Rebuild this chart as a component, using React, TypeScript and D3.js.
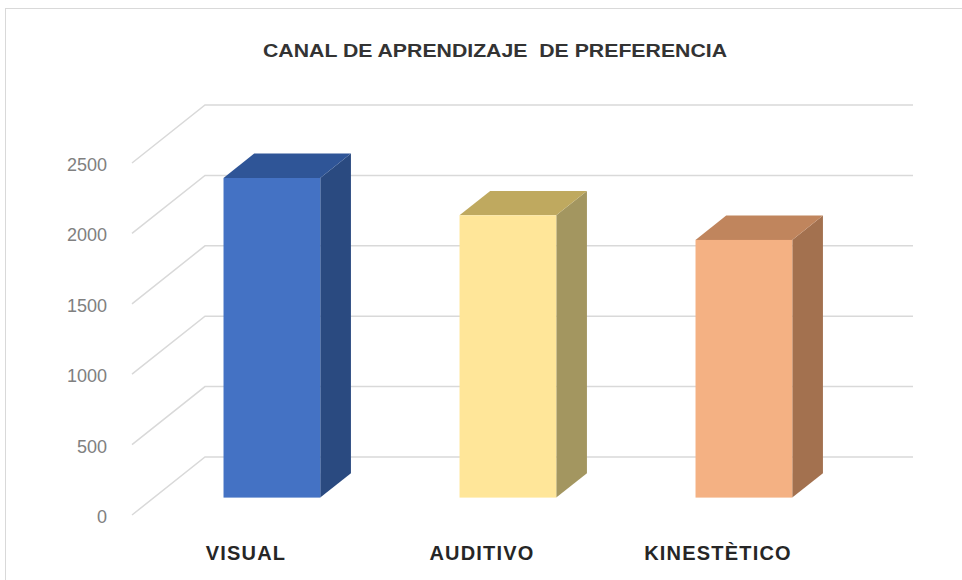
import * as d3 from "d3"

const categories = ["VISUAL", "AUDITIVO", "KINESTÈTICO"]
const values = [2270, 2005, 1830]
const yTicks = [0, 500, 1000, 1500, 2000, 2500]
const title = "CANAL DE APRENDIZAJE  DE PREFERENCIA"

// front / top / side colours per bar
const fronts = ["#4472c4", "#ffe699", "#f4b183"]
const tops = ["#2f5597", "#bfa95f", "#c0855d"]
const sides = ["#2a4a80", "#a39660", "#a3714f"]

export default function App() {
  const width = 962
  const height = 580

  // perspective of the 3d box: back wall is shifted by this
  const depth = {dx: 73, dy: -58}
  const barFront = 0.3
  const barBack = 0.72

  const x = d3.scaleBand().domain(categories).range([132, 840]).padding(0)
  const y = d3.scaleLinear().domain([0, 2500]).range([515, 163])
  const barW = x.bandwidth() * 0.41

  const off = (f: number) => [depth.dx * f, depth.dy * f]

  return (
    <svg
      width={width}
      height={height}
      style={{position: "absolute", left: 0, top: 0, background: "#fff"}}
      fontFamily="'Liberation Sans', Arial, sans-serif"
    >
      <rect x={5.5} y={8.5} width={1000} height={600} fill="#fff" stroke="#d9d9d9" />

      <text
        x={495}
        y={57}
        textAnchor="middle"
        fontSize={19}
        fontWeight="bold"
        fill="#333"
        textLength={464}
        lengthAdjust="spacingAndGlyphs"
        style={{whiteSpace: "pre"}}
      >
        {title}
      </text>

      {/* gridlines: side wall diagonal + back wall */}
      <g stroke="#d9d9d9" strokeWidth={1.5} fill="none">
        {yTicks.map((t) => {
          const x0 = x.range()[0]
          const y0 = y(t)
          const x1 = x0 + depth.dx
          const y1 = y0 + depth.dy
          const x2 = x.range()[1] + depth.dx
          return <path key={t} d={`M${x0},${y0}L${x1},${y1}L${x2},${y1}`} />
        })}
      </g>

      {yTicks.map((t) => (
        <text
          key={t}
          x={107}
          y={y(t) + 8}
          textAnchor="end"
          fontSize={18}
          fill="#808080"
        >
          {t}
        </text>
      ))}

      {categories.map((c, i) => {
        const cx = (x(c) ?? 0) + x.bandwidth() / 2
        const [fx, fy] = off(barFront)
        const [bx, by] = off(barBack)
        const l = cx - barW / 2 + fx
        const r = cx + barW / 2 + fx
        const top = y(values[i]) + fy
        const bottom = y(0) + fy
        const ddx = bx - fx
        const ddy = by - fy
        return (
          <g key={c}>
            <path
              d={`M${r},${top}L${r + ddx},${top + ddy}L${r + ddx},${bottom + ddy}L${r},${bottom}Z`}
              fill={sides[i]}
            />
            <path
              d={`M${l},${top}L${l + ddx},${top + ddy}L${r + ddx},${top + ddy}L${r},${top}Z`}
              fill={tops[i]}
            />
            <rect x={l} y={top} width={barW} height={bottom - top} fill={fronts[i]} />
          </g>
        )
      })}

      {categories.map((c) => (
        <text
          key={c}
          x={(x(c) ?? 0) + x.bandwidth() / 2 - 4}
          y={560}
          textAnchor="middle"
          fontSize={20}
          fontWeight="bold"
          letterSpacing={1.2}
          fill="#262626"
        >
          {c}
        </text>
      ))}
    </svg>
  )
}
